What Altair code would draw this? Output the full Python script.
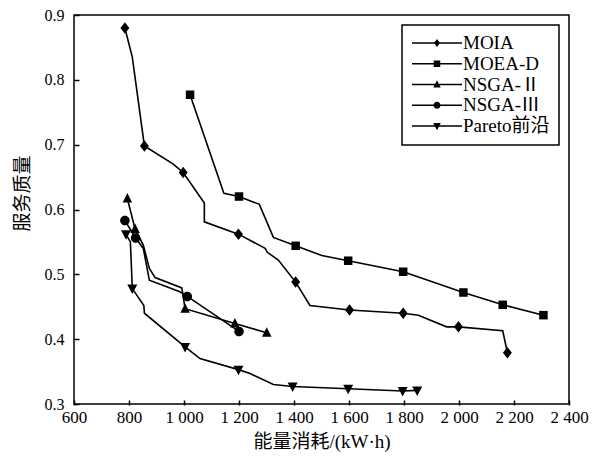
import altair as alt
import pandas as pd

SERIES = ["MOIA", "MOEA-D", "NSGA-Ⅱ", "NSGA-Ⅲ", "Pareto前沿"]

MOIA_X = [785, 812, 856, 961, 997, 1074, 1074, 1198, 1295, 1303, 1343, 1406, 1458, 1602, 1797, 1852, 1955, 1998, 2159, 2176]
MOIA_Y = [0.880, 0.835, 0.698, 0.670, 0.657, 0.610, 0.581, 0.562, 0.540, 0.534, 0.522, 0.488, 0.452, 0.445, 0.440, 0.437, 0.419, 0.419, 0.413, 0.379]
MOIA_M = [1, 0, 1, 0, 1, 0, 0, 1, 0, 0, 0, 1, 0, 1, 1, 0, 0, 1, 0, 1]

MOEAD_X = [1022, 1145, 1200, 1274, 1325, 1406, 1501, 1597, 1797, 2016, 2159, 2307]
MOEAD_Y = [0.777, 0.625, 0.620, 0.608, 0.557, 0.544, 0.529, 0.521, 0.504, 0.472, 0.453, 0.437]
MOEAD_M = [1, 0, 1, 0, 0, 1, 0, 1, 1, 1, 1, 1]

NSGA2_X = [794, 822, 852, 874, 895, 992, 1004, 1185, 1301]
NSGA2_Y = [0.617, 0.570, 0.545, 0.509, 0.495, 0.479, 0.447, 0.424, 0.410]
NSGA2_M = [1, 1, 0, 0, 0, 0, 1, 1, 1]

NSGA3_X = [785, 824, 852, 874, 985, 1012, 1200]
NSGA3_Y = [0.583, 0.556, 0.540, 0.491, 0.473, 0.466, 0.412]
NSGA3_M = [1, 1, 0, 0, 0, 1, 1]

PARETO_X = [789, 805, 812, 854, 856, 1004, 1058, 1198, 1240, 1325, 1395, 1597, 1795, 1848]
PARETO_Y = [0.562, 0.550, 0.478, 0.452, 0.440, 0.388, 0.370, 0.353, 0.347, 0.330, 0.327, 0.3235, 0.320, 0.321]
PARETO_M = [1, 0, 1, 0, 0, 1, 0, 1, 0, 0, 1, 1, 1, 1]

X_TICKS = [600, 800, 1000, 1200, 1400, 1600, 1800, 2000, 2200, 2400]
Y_TICKS = [0.3, 0.4, 0.5, 0.6, 0.7, 0.8, 0.9]

MARK_PATHS = [
    "M0,-1.15L0.9,0L0,1.15L-0.9,0Z",
    "M-0.85,-0.85H0.85V0.85H-0.85Z",
    "M0,-1.1L0.95,0.8H-0.95Z",
    "M-0.95,0A0.95,0.95,0,1,1,0.95,0A0.95,0.95,0,1,1,-0.95,0Z",
    "M0,1.1L-1,-0.8H1Z",
]
LINE_PATH = "M-1,-0.03H1V0.03H-1Z"
LEGEND_PATHS = [
    LINE_PATH + "M0,-0.16L0.12,0L0,0.16L-0.12,0Z",
    LINE_PATH + "M-0.13,-0.13H0.13V0.13H-0.13Z",
    LINE_PATH + "M0,-0.17L0.15,0.12H-0.15Z",
    LINE_PATH + "M-0.14,0A0.14,0.14,0,1,1,0.14,0A0.14,0.14,0,1,1,-0.14,0Z",
    LINE_PATH + "M0,0.17L-0.15,-0.12H0.15Z",
]

rows = []
for name, xs, ys, ms in [
    (SERIES[0], MOIA_X, MOIA_Y, MOIA_M),
    (SERIES[1], MOEAD_X, MOEAD_Y, MOEAD_M),
    (SERIES[2], NSGA2_X, NSGA2_Y, NSGA2_M),
    (SERIES[3], NSGA3_X, NSGA3_Y, NSGA3_M),
    (SERIES[4], PARETO_X, PARETO_Y, PARETO_M),
]:
    for i, (x, y, m) in enumerate(zip(xs, ys, ms)):
        rows.append({"series": name, "x": x, "y": y, "mark": m, "idx": i})
df = pd.DataFrame(rows)

FONT = "Liberation Serif, Noto Sans CJK SC"
xscale = alt.Scale(domain=[600, 2400], nice=False, zero=False)
yscale = alt.Scale(domain=[0.3, 0.9], nice=False, zero=False)

x_main = alt.X("x:Q", scale=xscale, axis=alt.Axis(
    values=X_TICKS, labelExpr="replace(format(datum.value, ','), ',', ' ')",
    ticks=False, tickSize=0, domain=False, grid=False, labelFlush=False, labelOverlap=False,
    title="能量消耗/(kW·h)", labelPadding=5, titlePadding=7,
    labelFont=FONT, labelFontSize=17, titleFont=FONT, titleFontSize=19,
    titleFontWeight="normal", labelColor="black", titleColor="black"))
y_main = alt.Y("y:Q", scale=yscale, axis=alt.Axis(
    values=Y_TICKS, format=".1f", ticks=False, tickSize=0, domain=False, grid=False,
    labelFlush=False, labelOverlap=False,
    title="服务质量", labelPadding=10, titleX=-52, titleY=178, titleAngle=270,
    titleAlign="center", titleBaseline="middle",
    labelFont=FONT, labelFontSize=16, titleFont=FONT, titleFontSize=19,
    titleFontWeight="normal", labelColor="black", titleColor="black"))

x_tick = alt.X("x:Q", scale=xscale, axis=alt.Axis(
    orient="top", offset=-390, values=X_TICKS, labels=False, domain=False, grid=False,
    ticks=True, tickSize=5, tickWidth=1.5, tickColor="black", title=None))
y_tick = alt.Y("y:Q", scale=yscale, axis=alt.Axis(
    orient="right", offset=-495, values=Y_TICKS, labels=False, domain=False, grid=False,
    ticks=True, tickSize=5, tickWidth=1.5, tickColor="black", title=None))

lines = alt.Chart(df).mark_line(color="black", strokeWidth=1.6).encode(
    x=x_main, y=y_main, detail="series:N", order="idx:Q")

markers = alt.Chart(df).transform_filter("datum.mark == 1").mark_point(
    filled=True, size=100, opacity=1, color="black").encode(
    x=x_tick, y=y_tick,
    shape=alt.Shape("series:N", scale=alt.Scale(domain=SERIES, range=MARK_PATHS), legend=None))

legend_layer = alt.Chart(df).transform_filter("datum.mark == 1").mark_point(
    filled=True, size=2500, opacity=0, color="black").encode(
    x=alt.X("x:Q", scale=xscale, axis=None),
    y=alt.Y("y:Q", scale=yscale, axis=None),
    shape=alt.Shape("series:N", scale=alt.Scale(domain=SERIES, range=LEGEND_PATHS),
                    legend=alt.Legend(
                        title=None, orient="none", legendX=328, legendY=10,
                        direction="vertical", padding=9, strokeColor="black", fillColor="white",
                        clipHeight=18, rowPadding=1.75, symbolSize=2500, symbolOpacity=1,
                        symbolFillColor="black", labelOffset=0,
                        labelFont=FONT, labelFontSize=19, labelColor="black")))

chart = alt.layer(lines, markers, legend_layer).resolve_scale(
    shape="independent").resolve_axis(x="independent", y="independent").properties(
    width=495, height=389,
    padding={"left": 66, "top": 7, "right": 20, "bottom": 50},
    autosize=alt.AutoSizeParams(type="none"),
).configure_view(stroke="black", strokeWidth=1.5).configure_legend(strokeWidth=1.5)

chart.save("out.html", embed_options={"renderer": "svg", "actions": False})
